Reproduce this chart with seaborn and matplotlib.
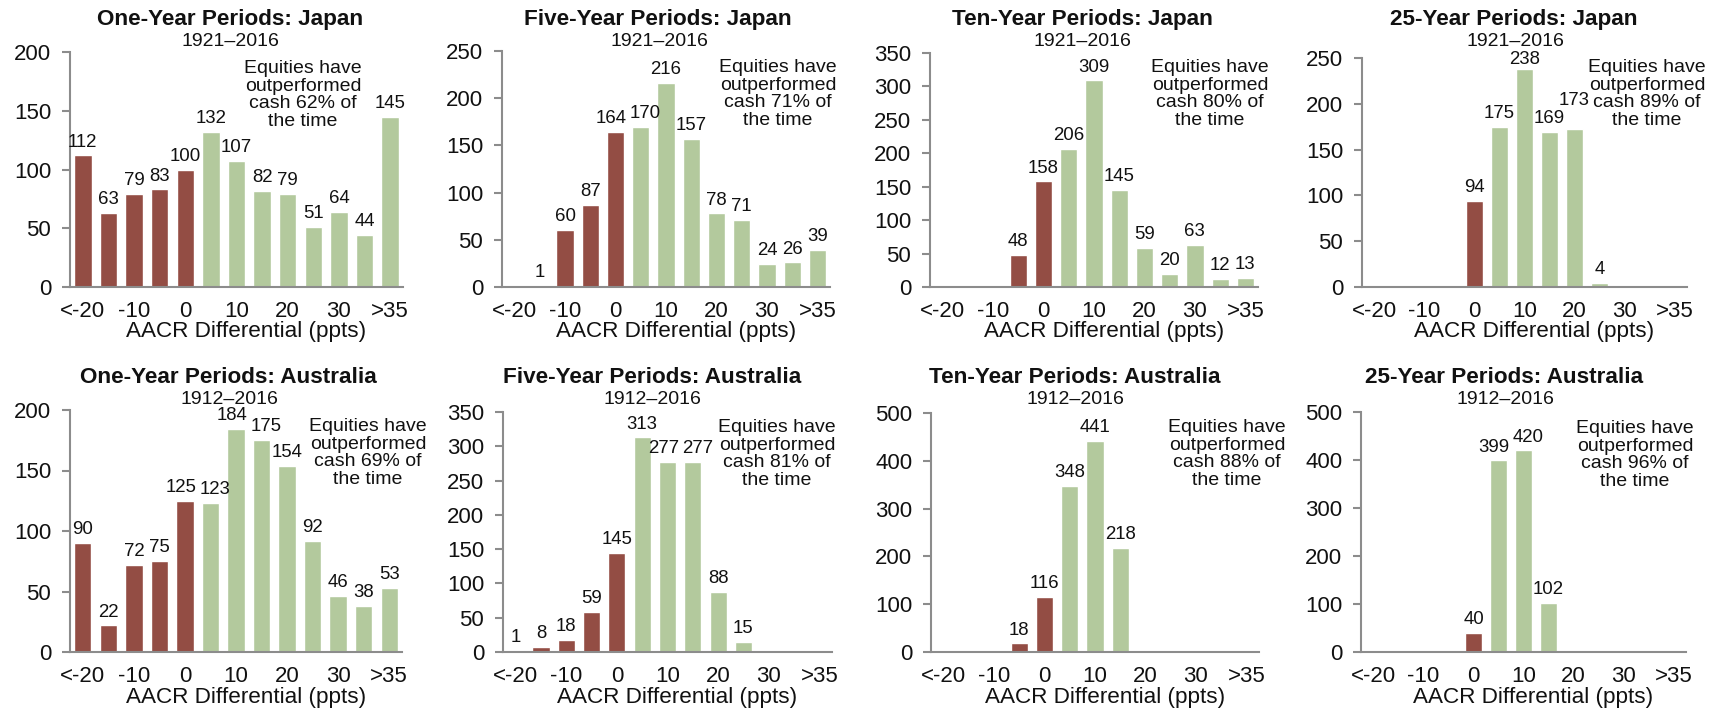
import matplotlib
matplotlib.use("Agg")
import matplotlib.pyplot as plt
import pandas as pd
import seaborn as sns

# Return-differential bins (equities minus cash, percentage points)
bins = ["<-20", "-15", "-10", "-5", "0", "5", "10", "15", "20", "25", "30", "35", ">35"]
tick_labels = ["<-20", "", "-10", "", "0", "", "10", "", "20", "", "30", "", ">35"]
n_lagging = 5  # first five bins: equities trailed cash

# Number of periods falling in each bin
japan_1y = [112, 63, 79, 83, 100, 132, 107, 82, 79, 51, 64, 44, 145]
japan_5y = [0, 1, 60, 87, 164, 170, 216, 157, 78, 71, 24, 26, 39]
japan_10y = [0, 0, 0, 48, 158, 206, 309, 145, 59, 20, 63, 12, 13]
japan_25y = [0, 0, 0, 0, 94, 175, 238, 169, 173, 4, 0, 0, 0]
australia_1y = [90, 22, 72, 75, 125, 123, 184, 175, 154, 92, 46, 38, 53]
australia_5y = [1, 8, 18, 59, 145, 313, 277, 277, 88, 15, 0, 0, 0]
australia_10y = [0, 0, 0, 18, 116, 348, 441, 218, 0, 0, 0, 0, 0]
australia_25y = [0, 0, 0, 0, 40, 399, 420, 102, 0, 0, 0, 0, 0]

series = [japan_1y, japan_5y, japan_10y, japan_25y,
          australia_1y, australia_5y, australia_10y, australia_25y]
titles = ["One-Year Periods: Japan", "Five-Year Periods: Japan",
          "Ten-Year Periods: Japan", "25-Year Periods: Japan",
          "One-Year Periods: Australia", "Five-Year Periods: Australia",
          "Ten-Year Periods: Australia", "25-Year Periods: Australia"]
spans = ["1921–2016"] * 4 + ["1912–2016"] * 4
outperformed_pct = [62, 71, 80, 89, 69, 81, 88, 96]
y_max = [200, 250, 350, 250, 200, 350, 500, 500]
y_step = [50, 50, 50, 50, 50, 50, 100, 100]

RED = "#934D44"
GREEN = "#B3C99D"
AXIS_GRAY = "#8C8C8C"
INK = "#111111"

FS_TICK = 16
FS_XLABEL = 16.2
FS_TITLE = 16.2
FS_SPAN = 14
FS_NOTE = 14
FS_VALUE = 13.4

sns.set_theme(style="white")
plt.rcParams["font.family"] = ["Liberation Sans", "DejaVu Sans"]

W, H = 1716, 710
DPI = 100
fig = plt.figure(figsize=(W / DPI, H / DPI), dpi=DPI)

# Plot-area boxes in pixels: (left, top, right, bottom)
boxes = [(70, 52, 403, 287), (502, 51, 830, 287), (930, 53, 1258, 287), (1362, 58, 1687, 287),
         (70, 410, 402, 652), (503, 412, 832, 652), (931, 413, 1259, 652), (1361, 412, 1686, 652)]
# Text anchors in pixels: title, span, note
title_xy = [(230, 19), (658, 19), (1082, 19), (1514, 19),
            (228, 378), (652, 378), (1075, 378), (1504, 378)]
span_xy = [(230, 42), (659, 42), (1082, 42), (1515, 42),
           (229, 400), (652, 400), (1075, 400), (1505, 400)]
note_xy = [(303, 95), (778, 94), (1210, 94), (1647, 94),
           (368, 453), (777, 454), (1227, 454), (1635, 455)]

def fx(x):
    return x / W

def fy(y):
    return 1 - y / H

label_groups = []
notes = []

for i, values in enumerate(series):
    left, top, right, bottom = boxes[i]
    ax = fig.add_axes([fx(left), fy(bottom), (right - left) / W, (bottom - top) / H])

    df = pd.DataFrame({
        "bin": bins,
        "count": values,
        "side": ["lag"] * n_lagging + ["lead"] * (len(bins) - n_lagging),
    })
    sns.barplot(data=df, x="bin", y="count", hue="side", order=bins,
                hue_order=["lag", "lead"], palette={"lag": RED, "lead": GREEN},
                dodge=False, width=0.68, legend=False, saturation=1, ax=ax)

    group = []
    for container in ax.containers:
        for bar, v in zip(container.patches, container.datavalues):
            if v <= 0:
                continue
            # labels near the top of the scale sit a little closer to their bar
            pad = 1 if v >= 0.95 * y_max[i] else 3.5
            ann = ax.annotate(f"{int(v)}", (bar.get_x() + bar.get_width() / 2, v),
                              xytext=(0, pad), textcoords="offset points",
                              ha="center", va="bottom", fontsize=FS_VALUE, color=INK)
            group.append(ann)
    group.sort(key=lambda a: a.xy[0])
    label_groups.append(group)

    ax.set_xlim(-0.5, len(bins) - 0.5)
    ax.set_ylim(0, y_max[i])
    ax.set_yticks(range(0, y_max[i] + 1, y_step[i]))
    ax.set_xticks(range(len(bins)))
    ax.set_xticklabels(tick_labels)
    ax.set_ylabel("")
    ax.set_xlabel("AACR Differential (ppts)", fontsize=FS_XLABEL, color=INK)
    ax.xaxis.set_label_coords(0.53, -45 / (bottom - top))
    ax.xaxis.label.set_va("center")

    ax.tick_params(axis="x", length=0, pad=10, labelsize=FS_TICK, labelcolor=INK)
    ax.tick_params(axis="y", length=5.5, width=1.5, color=AXIS_GRAY, direction="out",
                   pad=8, labelsize=FS_TICK, labelcolor=INK, left=True)
    for side in ("top", "right"):
        ax.spines[side].set_visible(False)
    for side in ("left", "bottom"):
        ax.spines[side].set_color(AXIS_GRAY)
        ax.spines[side].set_linewidth(1.5)
    ax.patch.set_alpha(0)

    tx, ty = title_xy[i]
    fig.text(fx(tx), fy(ty), titles[i], ha="center", va="center",
             fontsize=FS_TITLE, fontweight="bold", color=INK)
    sx, sy = span_xy[i]
    fig.text(fx(sx), fy(sy), spans[i], ha="center", va="center",
             fontsize=FS_SPAN, color=INK)
    nx, ny = note_xy[i]
    notes.append(fig.text(fx(nx), fy(ny),
                          f"Equities have\noutperformed\ncash {outperformed_pct[i]}% of\nthe time",
                          ha="center", va="center", fontsize=FS_NOTE, color=INK,
                          linespacing=1.07))

# Untangle neighbouring value labels that would collide: spread them sideways,
# or lift the taller bar's label when a sideways move would hit the note
fig.canvas.draw()
renderer = fig.canvas.get_renderer()
px_to_pt = 72 / DPI

def overlaps(e1, e2):
    return e1.x1 > e2.x0 and e2.x1 > e1.x0 and e1.y1 > e2.y0 and e2.y1 > e1.y0

for group, note in zip(label_groups, notes):
    note_box = note.get_window_extent(renderer)
    for a, b in zip(group[:-1], group[1:]):
        ea = a.get_window_extent(renderer)
        eb = b.get_window_extent(renderer)
        if not overlaps(ea, eb):
            continue
        shift = (ea.x1 - eb.x0 + 3) / 2 * px_to_pt
        a0, b0 = a.xyann, b.xyann
        a.xyann = (a0[0] - shift, a0[1])
        b.xyann = (b0[0] + shift, b0[1])
        if overlaps(b.get_window_extent(renderer), note_box):
            a.xyann, b.xyann = a0, b0
            low, high = (a, b) if a.xy[1] <= b.xy[1] else (b, a)
            el = low.get_window_extent(renderer)
            eh = high.get_window_extent(renderer)
            lift = (el.y1 - eh.y0 + 1) * px_to_pt
            hx, hy = high.xyann
            high.xyann = (hx, hy + lift)

fig.savefig("out.png", dpi=DPI, facecolor="white")
